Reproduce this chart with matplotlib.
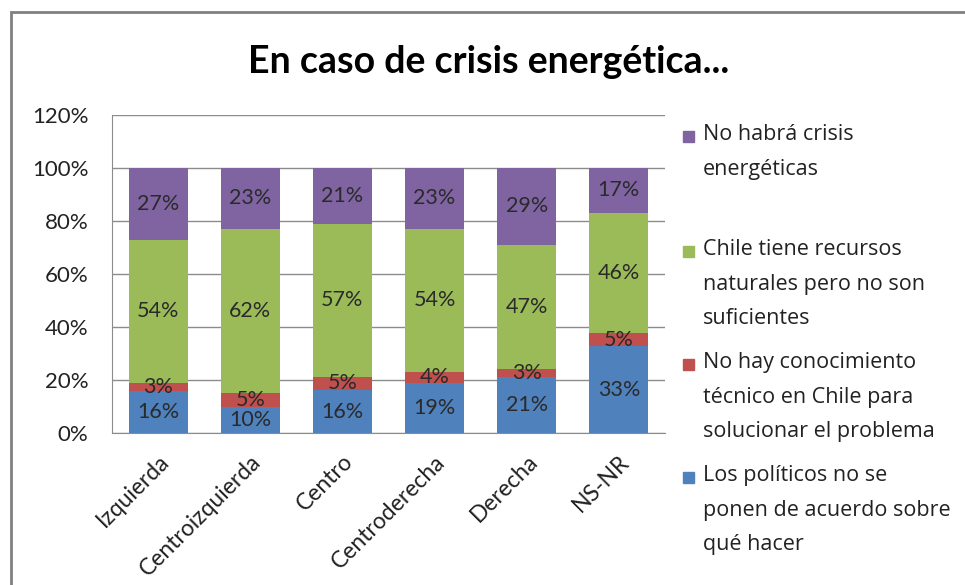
import matplotlib
matplotlib.use("Agg")
import matplotlib.pyplot as plt
import numpy as np
from matplotlib.patches import Rectangle

plt.rcParams['font.family'] = ['Lato', 'DejaVu Sans']

categories = ["Izquierda", "Centroizquierda", "Centro", "Centroderecha", "Derecha", "NS-NR"]
politicos = [16, 10, 16, 19, 21, 33]
conocimiento = [3, 5, 5, 4, 3, 5]
recursos = [54, 62, 57, 54, 47, 46]
no_crisis = [27, 23, 21, 23, 29, 17]

series_names = [
    "Los políticos no se\nponen de acuerdo sobre\nqué hacer",
    "No hay conocimiento\ntécnico en Chile para\nsolucionar el problema",
    "Chile tiene recursos\nnaturales pero no son\nsuficientes",
    "No habrá crisis\nenergéticas",
]
series = [politicos, conocimiento, recursos, no_crisis]
colors = ["#4F81BD", "#C0504D", "#9BBB59", "#8064A2"]
yticks = [0, 20, 40, 60, 80, 100, 120]

fig = plt.figure(figsize=(9.65, 5.85), dpi=100)
ax = fig.add_axes([112/965, 1-433/585, (665-112)/965, (433-115)/585])

data = np.array(series, dtype=float)
totals = data.sum(axis=0)
norm = data / totals * 100
x = np.arange(len(categories))
bottom = np.zeros(len(categories))
for vals, nv, c in zip(series, norm, colors):
    ax.bar(x, nv, bottom=bottom, width=0.64, color=c, zorder=3)
    for xi, b, h, v in zip(x, bottom, nv, vals):
        ax.text(xi, b + h/2, f"{v}%", ha='center', va='center', fontsize=15.5,
                color='#2a2a2a', zorder=4)
    bottom += nv

ax.set_xlim(-0.5, len(categories) - 0.5)
ax.set_ylim(0, 120)
ax.set_yticks(yticks)
ax.set_yticklabels([f"{t}%" for t in yticks], fontsize=16, color='#222222')
ax.yaxis.grid(True, color='#8c8c8c', linewidth=1, zorder=0)
ax.set_axisbelow(True)
ax.tick_params(axis='y', length=0, pad=17)
ax.tick_params(axis='x', length=0, pad=13)
ax.set_xticks(x)
ax.set_xticklabels(categories, rotation=45, ha='right', rotation_mode='anchor',
                   fontsize=16.5, color='#222222')
for s in ['top', 'right']:
    ax.spines[s].set_visible(False)
ax.spines['left'].set_color('#8c8c8c')
ax.spines['bottom'].set_color('#8c8c8c')

fig.text(489/965, 1-62/585, "En caso de crisis energética...", ha='center', va='center',
         fontsize=27, fontweight='bold', color='#000000')

# legend (top to bottom, reversed order)
leg_cap_top = [127, 242, 355, 468]
for name, c, y0 in zip(series_names[::-1], colors[::-1], leg_cap_top):
    fig.patches.append(Rectangle((683/965, 1-(y0+15)/585), 11/965, 11/585,
                                 transform=fig.transFigure, color=c))
    fig.text(703/965, 1-(y0-3)/585, name, ha='left', va='top', fontsize=15.5,
             color='#222222', linespacing=1.85, family=['Open Sans', 'DejaVu Sans'])

# chart border
fig.patches.append(Rectangle((11/965, -0.1), 1.1, 1-12/585+0.1, transform=fig.transFigure,
                             fill=False, edgecolor='#808080', linewidth=2))

fig.savefig("out.png", dpi=100)
